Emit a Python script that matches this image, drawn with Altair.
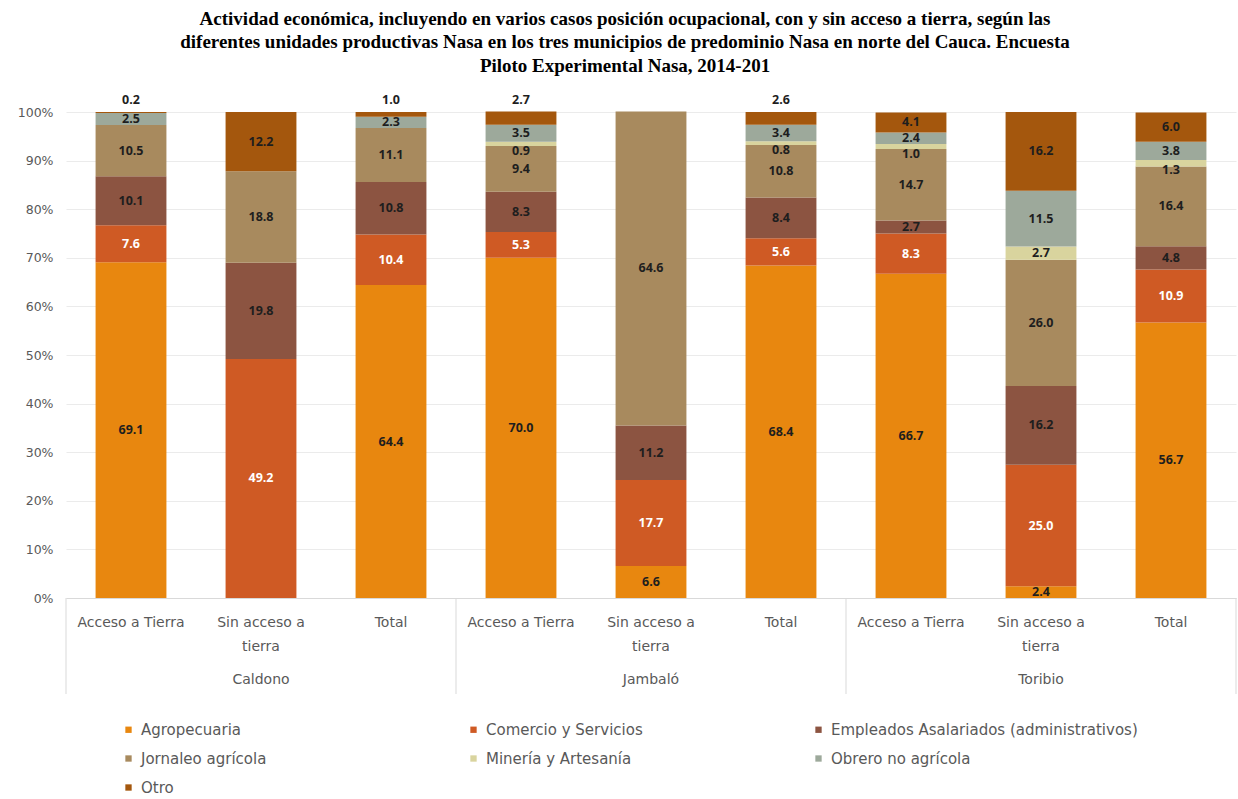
import altair as alt
import pandas as pd

municipios = ["Caldono", "Jambaló", "Toribio"]
subgrupos = ["Acceso a Tierra", "Sin acceso a tierra", "Total"]
categorias = [
    "Agropecuaria",
    "Comercio y Servicios",
    "Empleados Asalariados (administrativos)",
    "Jornaleo agrícola",
    "Minería y Artesanía",
    "Obrero no agrícola",
    "Otro",
]
colores = ["#E8870F", "#CF5A24", "#8C5441", "#A88A5E", "#D9D49E", "#9DA99B", "#A4570D"]

# values per bar: Caldono (acceso, sin, total), Jambaló (...), Toribio (...)
agropecuaria = [69.1, 0.0, 64.4, 70.0, 6.6, 68.4, 66.7, 2.4, 56.7]
comercio = [7.6, 49.2, 10.4, 5.3, 17.7, 5.6, 8.3, 25.0, 10.9]
empleados = [10.1, 19.8, 10.8, 8.3, 11.2, 8.4, 2.7, 16.2, 4.8]
jornaleo = [10.5, 18.8, 11.1, 9.4, 64.6, 10.8, 14.7, 26.0, 16.4]
mineria = [0.0, 0.0, 0.0, 0.9, 0.0, 0.8, 1.0, 2.7, 1.3]
obrero = [2.5, 0.0, 2.3, 3.5, 0.0, 3.4, 2.4, 11.5, 3.8]
otro = [0.2, 12.2, 1.0, 2.7, 0.0, 2.6, 4.1, 16.2, 6.0]

series = [agropecuaria, comercio, empleados, jornaleo, mineria, obrero, otro]

keys = [f"{m}|{s}" for m in municipios for s in subgrupos]
rows = []
for i, k in enumerate(keys):
    acc = 0.0
    for j, cat in enumerate(categorias):
        v = series[j][i]
        rows.append({"key": k, "categoria": cat, "orden": j, "valor": v,
                     "inicio": acc, "fin": acc + v, "medio": acc + v / 2})
        acc += v
df = pd.DataFrame(rows)

mun_df = pd.DataFrame({"key": [f"{m}|{subgrupos[1]}" for m in municipios], "mun": municipios})
sep_df = pd.DataFrame({"key": [f"{m}|{subgrupos[0]}" for m in municipios]})
sep_end_df = pd.DataFrame({"key": [keys[-1]]})

FONT = "DejaVu Sans"
LFONT = "Open Sans"
GRAY = "#595959"

x_axis = alt.Axis(
    title=None,
    labelAngle=0,
    ticks=False,
    domainColor="#d9d9d9",
    labelFont=FONT,
    labelFontSize=14,
    labelColor=GRAY,
    labelPadding=17,
    labelLineHeight=24,
    labelExpr="split(datum.value, '|')[1] == 'Sin acceso a tierra' ? ['Sin acceso a', 'tierra'] : split(datum.value, '|')[1]",
)
x_scale = alt.Scale(paddingInner=0, paddingOuter=0)


def xenc(band=0.5):
    return alt.X("key:N", sort=keys, scale=x_scale, axis=x_axis, bandPosition=band)


y_enc = alt.Y(
    "inicio:Q",
    scale=alt.Scale(domain=[0, 100], nice=False),
    axis=alt.Axis(
        title=None,
        values=list(range(0, 101, 10)),
        labelExpr="datum.value + '%'",
        domain=False,
        ticks=False,
        gridColor="#ebebeb",
        labelFont=FONT,
        labelFontSize=12.5,
        labelColor=GRAY,
        labelPadding=13,
    ),
)

bars = (
    alt.Chart(df)
    .transform_filter("datum.valor > 0")
    .mark_bar(width=alt.RelativeBandSize(0.545))
    .encode(
        x=alt.X("key:N", sort=keys, scale=x_scale, axis=x_axis),
        y=y_enc,
        y2="fin:Q",
        order=alt.Order("orden:Q"),
        color=alt.Color(
            "categoria:N",
            sort=categorias,
            scale=alt.Scale(domain=categorias, range=colores),
            legend=alt.Legend(
                title=None,
                orient="none",
                legendX=55,
                legendY=610,
                direction="horizontal",
                columns=3,
                gridAlign="all",
                symbolType="square",
                symbolSize=40,
                symbolStrokeWidth=0,
                symbolOffset=0,
                labelOffset=5,
                labelFont=FONT,
                labelFontSize=15,
                labelColor=GRAY,
                labelLimit=400,
                columnPadding=18,
                rowPadding=13,
                padding=0,
            ),
        ),
    )
)

label_color = alt.condition(
    "datum.categoria == 'Comercio y Servicios'", alt.value("white"), alt.value("#1e1e1e")
)

labels_in = (
    alt.Chart(df)
    .transform_filter(
        "datum.valor > 0 && !(datum.categoria == 'Otro' && datum.valor < 3)"
        " && !(datum.categoria == 'Minería y Artesanía' && datum.valor < 2)"
    )
    .mark_text(font=LFONT, fontSize=12.5, fontWeight="bold", baseline="middle")
    .encode(
        x=alt.X("key:N", sort=keys, scale=x_scale, axis=x_axis),
        y=alt.Y("medio:Q"),
        text=alt.Text("valor:Q", format=".1f"),
        color=label_color,
    )
)

labels_min = (
    alt.Chart(df)
    .transform_filter("datum.categoria == 'Minería y Artesanía' && datum.valor > 0 && datum.valor < 2")
    .mark_text(font=LFONT, fontSize=12.5, fontWeight="bold", baseline="middle", dy=7, color="#1e1e1e")
    .encode(
        x=alt.X("key:N", sort=keys, scale=x_scale, axis=x_axis),
        y=alt.Y("medio:Q"),
        text=alt.Text("valor:Q", format=".1f"),
    )
)

labels_top = (
    alt.Chart(df)
    .transform_filter("datum.valor > 0 && datum.categoria == 'Otro' && datum.valor < 3")
    .mark_text(font=LFONT, fontSize=12.5, fontWeight="bold", baseline="middle", dy=-12, color="#1e1e1e")
    .encode(
        x=alt.X("key:N", sort=keys, scale=x_scale, axis=x_axis),
        y=alt.Y("fin:Q"),
        text=alt.Text("valor:Q", format=".1f"),
    )
)

mun_text = (
    alt.Chart(mun_df)
    .mark_text(font=FONT, fontSize=14, color=GRAY, baseline="middle")
    .encode(
        x=alt.X("key:N", sort=keys, scale=x_scale, axis=x_axis),
        y=alt.value(568),
        text="mun:N",
    )
)

seps = (
    alt.Chart(sep_df)
    .mark_rule(color="#d9d9d9", strokeWidth=1)
    .encode(x=xenc(0), y=alt.value(486), y2=alt.value(582))
)
sep_end = (
    alt.Chart(sep_end_df)
    .mark_rule(color="#d9d9d9", strokeWidth=1)
    .encode(x=xenc(1), y=alt.value(486), y2=alt.value(582))
)

chart = (
    alt.layer(bars, labels_in, labels_min, labels_top, mun_text, seps, sep_end)
    .properties(
        width=1170,
        height=486,
        autosize=alt.AutoSizeParams(type="none"),
        padding={"left": 66, "top": 112, "right": 2, "bottom": 201},
        background="white",
        title=alt.TitleParams(
            text=[
                "Actividad económica, incluyendo  en varios casos posición ocupacional, con y sin acceso a tierra,  según  las",
                "diferentes unidades productivas Nasa  en los tres municipios de predominio Nasa en norte del Cauca. Encuesta",
                "Piloto Experimental  Nasa, 2014-201",
            ],
            font="Liberation Serif",
            fontSize=19,
            fontWeight="bold",
            color="black",
            anchor="middle",
            lineHeight=23.5,
            offset=18,
            dx=-26,
        ),
    )
    .configure_view(stroke=None)
)

chart.save("out.html", embed_options={"renderer": "svg", "actions": False})
